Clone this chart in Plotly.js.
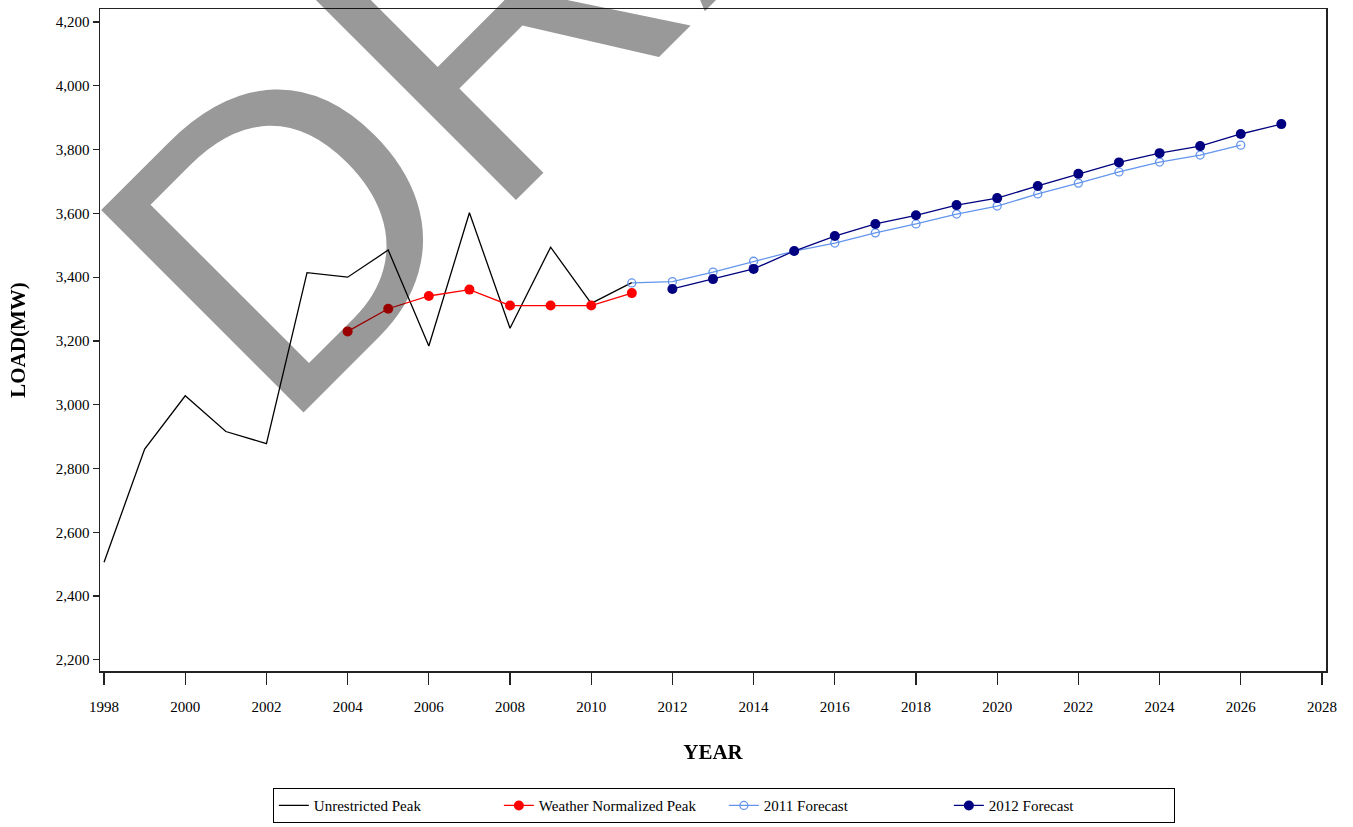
<!DOCTYPE html>
<html>
<head>
<meta charset="utf-8">
<script src="https://cdn.plot.ly/plotly-3.0.1.min.js"></script>
<style>
  html, body { margin: 0; padding: 0; background: #fff; }
  #chart { width: 1353px; height: 827px; }
</style>
</head>
<body>
<div id="chart"></div>
<script>
// ---- Data ----
const unrestrictedYears = [1998, 1999, 2000, 2001, 2002, 2003, 2004, 2005, 2006, 2007, 2008, 2009, 2010, 2011];
const unrestrictedPeak  = [2506, 2861, 3028, 2916, 2878, 3414, 3400, 3485, 3184, 3602, 3240, 3494, 3318, 3383];

const weatherYears = [2004, 2005, 2006, 2007, 2008, 2009, 2010, 2011];
const weatherNormalizedPeak = [3230, 3301, 3341, 3361, 3311, 3311, 3311, 3350];

const forecast2011Years = [2011, 2012, 2013, 2014, 2015, 2016, 2017, 2018, 2019, 2020, 2021, 2022, 2023, 2024, 2025, 2026];
const forecast2011 = [3382, 3386, 3416, 3450, 3482, 3507, 3539, 3567, 3598, 3623, 3661, 3695, 3730, 3761, 3783, 3814];

const forecast2012Years = [2012, 2013, 2014, 2015, 2016, 2017, 2018, 2019, 2020, 2021, 2022, 2023, 2024, 2025, 2026, 2027];
const forecast2012 = [3363, 3394, 3426, 3482, 3529, 3567, 3594, 3626, 3648, 3686, 3724, 3760, 3789, 3811, 3849, 3880];

const seriesNames = ['Unrestricted Peak', 'Weather Normalized Peak', '2011 Forecast', '2012 Forecast'];
const xTitle = 'YEAR';
const yTitle = 'LOAD(MW)';
const watermarkText = 'DRAFT';

// ---- Traces ----
const serif = '"Liberation Serif", "Times New Roman", Times, serif';

const traces = [
  {
    x: unrestrictedYears, y: unrestrictedPeak, name: seriesNames[0],
    type: 'scatter', mode: 'lines',
    line: { color: '#000000', width: 1.3 }
  },
  {
    x: weatherYears, y: weatherNormalizedPeak, name: seriesNames[1],
    type: 'scatter', mode: 'lines+markers',
    line: { color: '#ff0000', width: 1.3 },
    marker: { color: '#ff0000', size: 10, symbol: 'circle' }
  },
  {
    x: forecast2011Years, y: forecast2011, name: seriesNames[2],
    type: 'scatter', mode: 'lines+markers',
    line: { color: '#6495ed', width: 1.3 },
    marker: { color: '#6495ed', size: 8, symbol: 'circle-open', line: { width: 1.3, color: '#6495ed' } }
  },
  {
    x: forecast2012Years, y: forecast2012, name: seriesNames[3],
    type: 'scatter', mode: 'lines+markers',
    line: { color: '#000080', width: 1.3 },
    marker: { color: '#000080', size: 10, symbol: 'circle' }
  }
];

const layout = {
  width: 1353, height: 827,
  paper_bgcolor: '#ffffff', plot_bgcolor: '#ffffff',
  margin: { l: 100, r: 27, t: 9, b: 156, autoexpand: false },
  font: { family: serif, size: 15, color: '#000' },
  showlegend: true,
  xaxis: {
    range: [1997.9, 2028.1],
    tick0: 1998, dtick: 2,
    showgrid: false, zeroline: false,
    showline: true, linecolor: '#222', linewidth: 1.5, mirror: true,
    ticks: 'outside', ticklen: 12, tickwidth: 1.2, tickcolor: '#222',
    ticklabelstandoff: 9,
    tickfont: { family: serif, size: 15, color: '#000' },
    title: { text: '<b>' + xTitle + '</b>', font: { family: serif, size: 21, color: '#000' }, standoff: 31 },
    automargin: false
  },
  yaxis: {
    range: [2165, 4241],
    tick0: 2200, dtick: 200,
    tickformat: ',d',
    showgrid: false, zeroline: false,
    showline: true, linecolor: '#222', linewidth: 1.5, mirror: true,
    ticks: 'outside', ticklen: 6, tickwidth: 1.2, tickcolor: '#222',
    tickfont: { family: serif, size: 15, color: '#000' },
    title: { text: '<b>' + yTitle + '</b>', font: { family: serif, size: 21, color: '#000' }, standoff: 24 },
    automargin: false
  },
  legend: {
    orientation: 'h',
    x: 0.141, xanchor: 'left',
    y: -0.177, yanchor: 'top',
    bordercolor: '#000', borderwidth: 1,
    bgcolor: '#ffffff',
    font: { family: serif, size: 15, color: '#000' },
    entrywidth: 180, entrywidthmode: 'pixels',
    itemwidth: 30,
    traceorder: 'normal'
  },
  annotations: [
    {
      text: watermarkText,
      xref: 'paper', yref: 'paper',
      x: 0.4625, y: 1.249,
      xanchor: 'center', yanchor: 'middle',
      textangle: -45,
      showarrow: false,
      font: { family: '"Liberation Sans", Arial, Helvetica, sans-serif', size: 416, color: '#999999' }
    }
  ]
};

Plotly.newPlot('chart', traces, layout, { displayModeBar: false, staticPlot: true }).then(function () {
  const info = document.querySelector('#chart .infolayer');
  const svg = info ? info.closest('svg') : null;
  if (svg) {
    svg.style.mixBlendMode = 'multiply';
  }
});
</script>
</body>
</html>
